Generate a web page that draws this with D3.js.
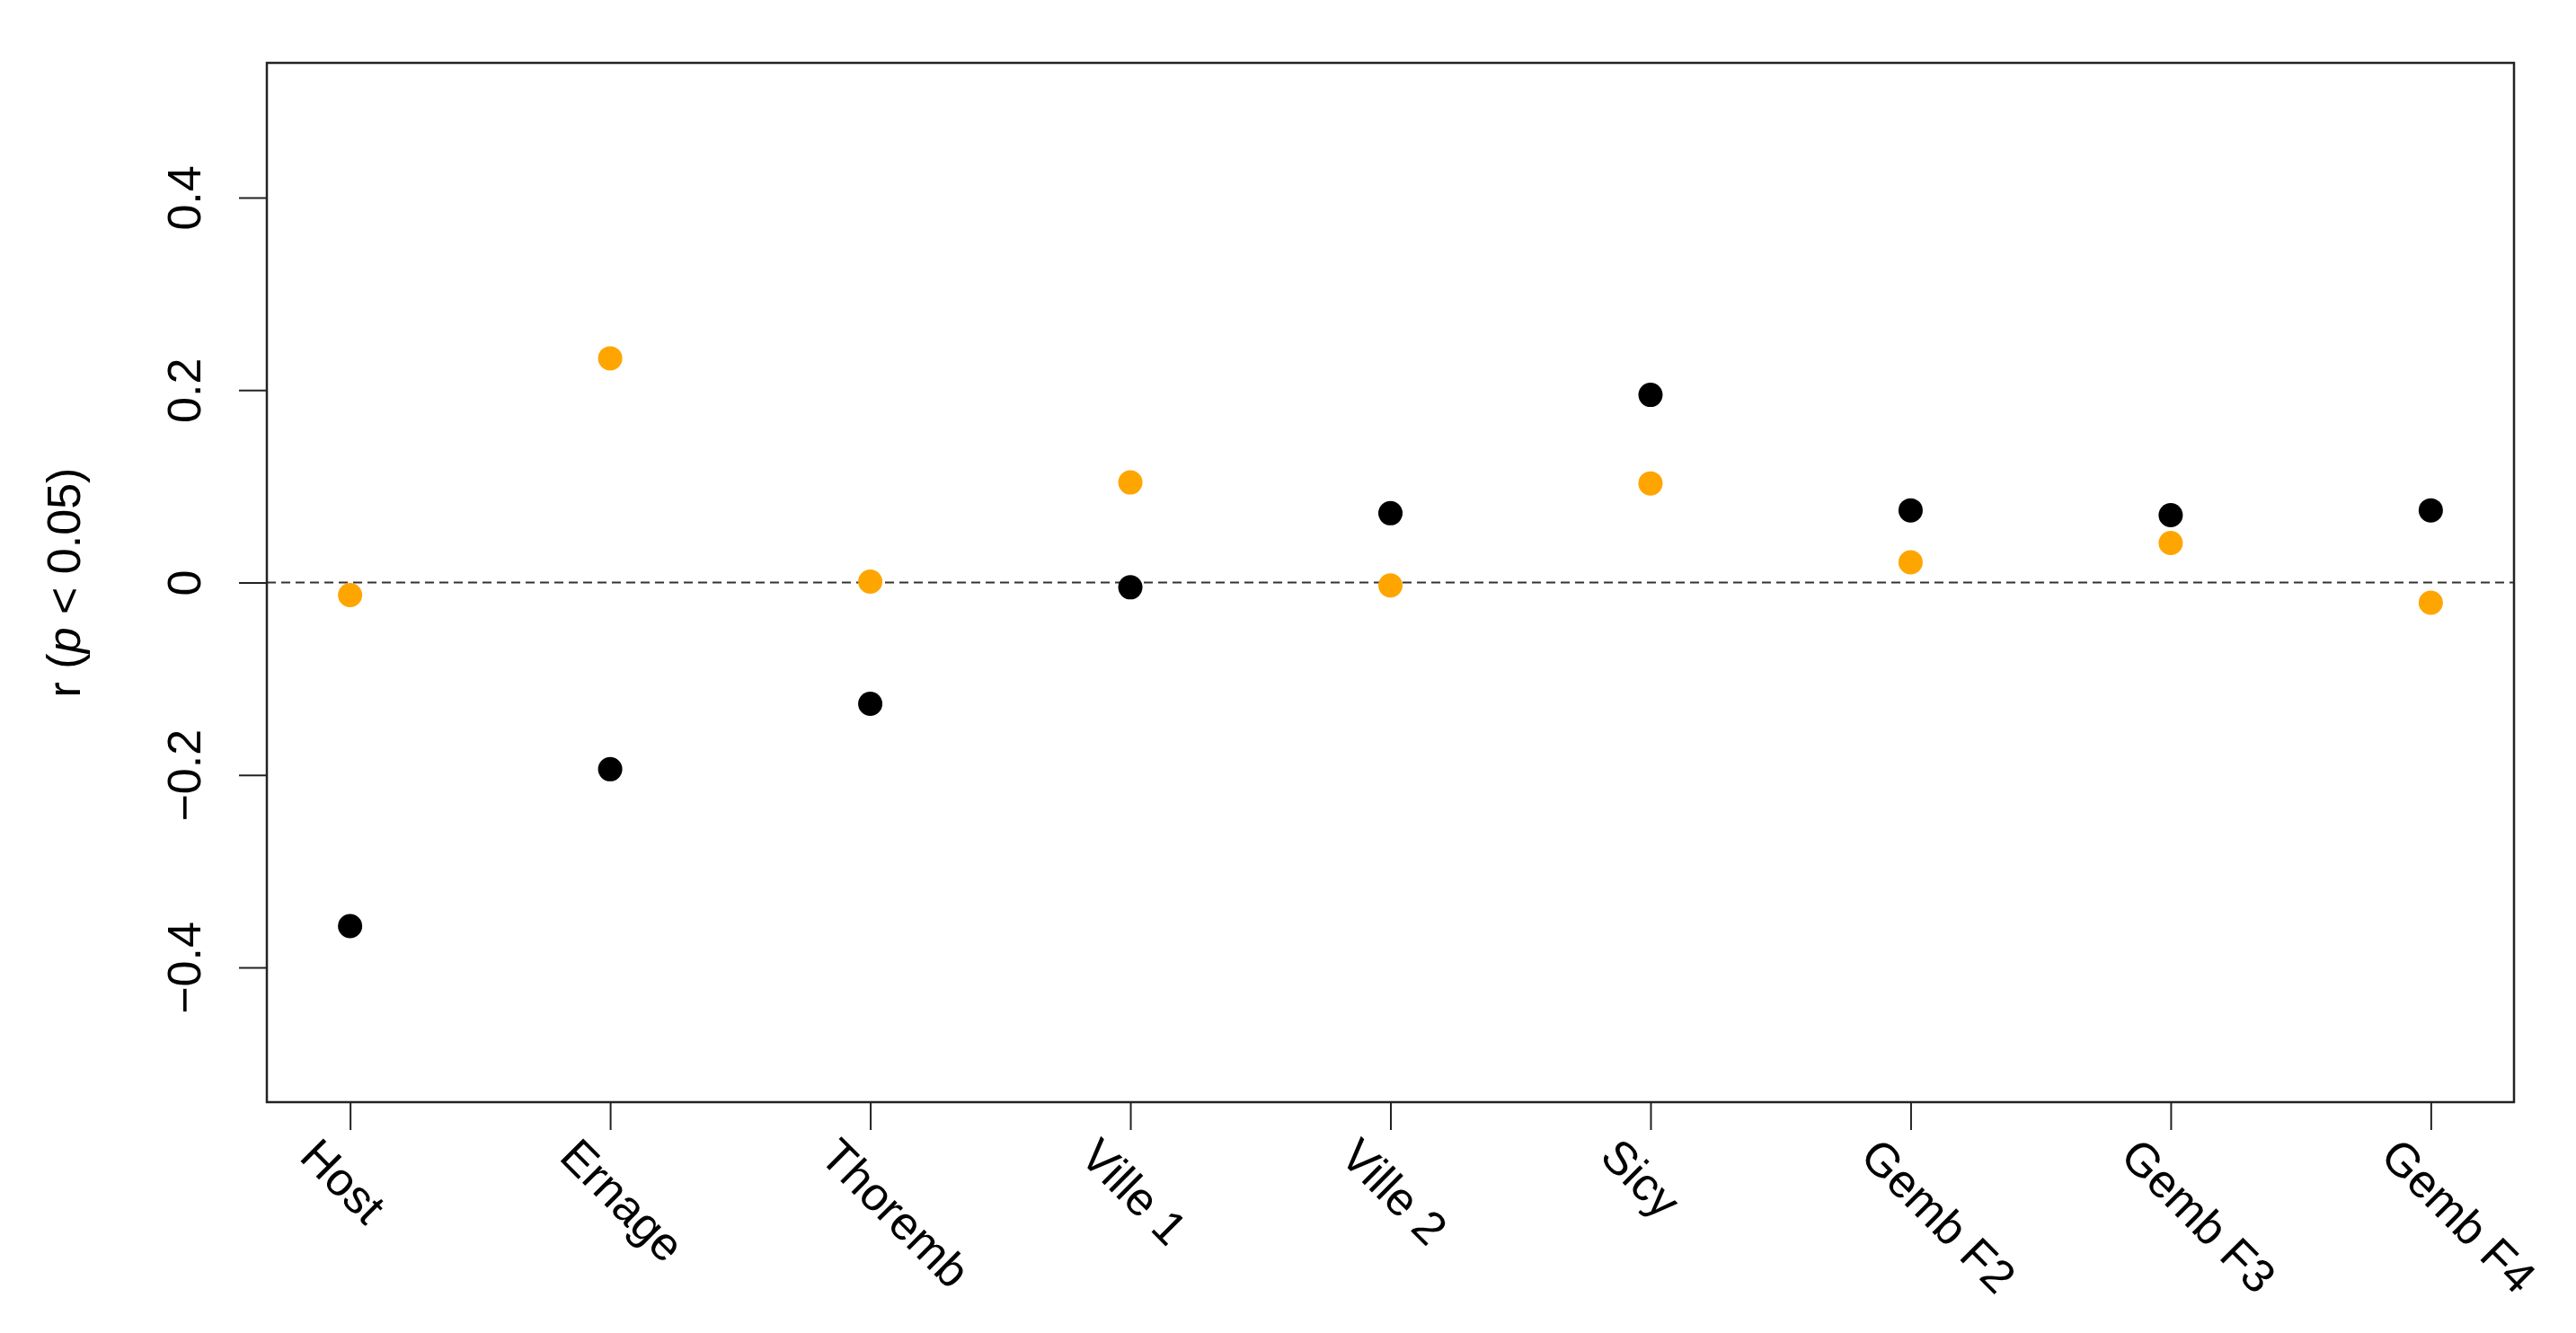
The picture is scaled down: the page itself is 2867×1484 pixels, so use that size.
<!DOCTYPE html>
<html>
<head>
<meta charset="utf-8">
<script src="https://cdn.jsdelivr.net/npm/d3@7"></script>
<style>
    body { margin: 0; background: #fff; }
    svg { display: block; font-family: "Liberation Sans", Arial, sans-serif; }
</style>
</head>
<body>
<svg id="chart" width="2867" height="1484"></svg>
<script>
// sites along the x axis
const sites = ["Host", "Ernage", "Thoremb", "Ville 1", "Ville 2", "Sicy", "Gemb F2", "Gemb F3", "Gemb F4"];
// correlation values
const blackValues = [-0.357, -0.194, -0.126, -0.005, 0.072, 0.195, 0.075, 0.070, 0.075];
const orangeValues = [-0.013, 0.233, 0.001, 0.104, -0.003, 0.103, 0.021, 0.041, -0.021];
const yTicks = [-0.4, -0.2, 0, 0.2, 0.4];
const yTickLabels = ["\u22120.4", "\u22120.2", "0", "0.2", "0.4"];

class DotChart {

    constructor() {
        this.svg = d3.select("#chart");
        this.left = 297;
        this.right = 2798;
        this.top = 70;
        this.bottom = 1227;
        this.fontSize = 52;
        this.radius = 13.5;
    }

    draw() {
        let xScale = d3.scaleLinear()
            .domain([0.68, 9.32])
            .range([this.left, this.right]);
        let yScale = d3.scaleLinear()
            .domain([-0.54, 0.54])
            .range([this.bottom, this.top]);

        // zero reference line
        this.svg.append("line")
            .attr("x1", this.left)
            .attr("x2", this.right)
            .attr("y1", yScale(0))
            .attr("y2", yScale(0))
            .attr("stroke", "#333")
            .attr("stroke-width", 2)
            .attr("stroke-dasharray", "10,6");

        // points
        let series = [
            {values: blackValues, color: "#000000"},
            {values: orangeValues, color: "#FFA500"}
        ];
        series.forEach(s => {
            this.svg.append("g").selectAll("circle")
                .data(s.values)
                .enter()
                .append("circle")
                .attr("cx", (d, i) => xScale(i + 1))
                .attr("cy", d => yScale(d))
                .attr("r", this.radius)
                .attr("fill", s.color);
        });

        // y axis
        let yAxis = d3.axisLeft(yScale)
            .tickValues(yTicks)
            .tickFormat((d, i) => yTickLabels[i])
            .tickSize(31)
            .tickSizeOuter(0);
        let yG = this.svg.append("g")
            .attr("transform", "translate(" + this.left + ",0)")
            .call(yAxis);
        yG.select(".domain").remove();
        yG.selectAll("line").attr("stroke", "#222").attr("stroke-width", 2);
        yG.selectAll("text")
            .attr("x", null)
            .attr("dy", null)
            .attr("text-anchor", "middle")
            .attr("transform", "translate(-74,0) rotate(-90)")
            .attr("fill", "#000")
            .style("font-size", this.fontSize + "px")
            .style("font-family", "Liberation Sans, Arial, sans-serif");

        // x axis, labels slanted down to the right
        let xAxis = d3.axisBottom(xScale)
            .tickValues(d3.range(1, sites.length + 1))
            .tickFormat(d => sites[d - 1])
            .tickSize(31)
            .tickSizeOuter(0);
        let xG = this.svg.append("g")
            .attr("transform", "translate(0," + this.bottom + ")")
            .call(xAxis);
        xG.select(".domain").remove();
        xG.selectAll("line").attr("stroke", "#222").attr("stroke-width", 2);
        xG.selectAll("text")
            .attr("y", null)
            .attr("dy", null)
            .attr("text-anchor", "start")
            .attr("dominant-baseline", "central")
            .attr("transform", "translate(-46,50) rotate(45)")
            .attr("fill", "#000")
            .style("font-size", this.fontSize + "px")
            .style("font-family", "Liberation Sans, Arial, sans-serif");

        // plot frame
        this.svg.append("rect")
            .attr("x", this.left)
            .attr("y", this.top)
            .attr("width", this.right - this.left)
            .attr("height", this.bottom - this.top)
            .attr("fill", "none")
            .attr("stroke", "#222")
            .attr("stroke-width", 2.5);

        // y title with italic p
        let title = this.svg.append("text")
            .attr("transform", "translate(89," + yScale(0) + ") rotate(-90)")
            .attr("text-anchor", "middle")
            .style("font-size", this.fontSize + "px");
        title.append("tspan").text("r (");
        title.append("tspan").style("font-style", "italic").text("p");
        title.append("tspan").text(" < 0.05)");
    }
}

let chart = new DotChart();
chart.draw();
</script>
</body>
</html>
